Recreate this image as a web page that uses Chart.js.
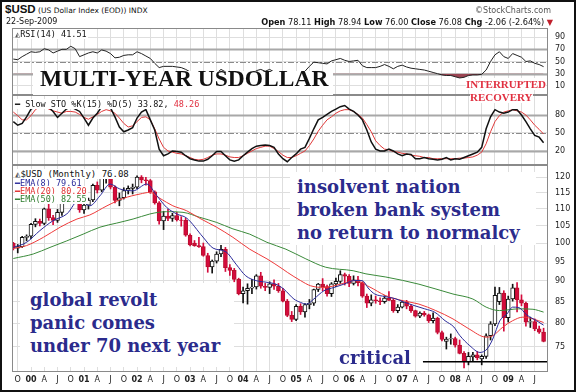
<!DOCTYPE html>
<html>
<head>
<meta charset="utf-8">
<script src="https://cdn.jsdelivr.net/npm/chart.js@4.4.1/dist/chart.umd.min.js"></script>
<style>
  html, body { margin: 0; padding: 0; background: #fff; }
  #wrap { position: relative; width: 576px; height: 392px; overflow: hidden; background: #fff; font-family: "DejaVu Sans", Verdana, sans-serif; color: #111; }
  #frame { position: absolute; left: 0; top: 0; width: 572px; height: 388px; border: 2px solid #111; z-index: 20; pointer-events: none; }
  canvas { position: absolute; left: 0; }
  .t { position: absolute; white-space: nowrap; z-index: 5; }
  .mono { font-family: "DejaVu Sans Mono", monospace; font-size: 8.5px; line-height: 10px; }
  .lab { background: #fff; padding-right: 1px; }
  .box { position: absolute; background: #fff; z-index: 4; }
  .note { position: absolute; white-space: nowrap; z-index: 6; font-family: "DejaVu Serif", serif; font-weight: bold; color: #2b2b8c; font-size: 18px; line-height: 23px; }
  .red { position: absolute; white-space: nowrap; z-index: 6; font-family: "Liberation Serif", serif; font-weight: bold; color: #e03040; font-size: 11px; background: #fff; }
</style>
</head>
<body>
<div id="wrap">
  <canvas id="rsi" width="576" height="67" style="top:28px"></canvas>
  <canvas id="sto" width="576" height="70" style="top:95px"></canvas>
  <canvas id="price" width="576" height="226" style="top:165px"></canvas>

  <div class="t" style="left:5px;top:3px;font-size:7.5px"><b style="font-family:'Liberation Sans',Arial,sans-serif;font-size:11.5px">$USD</b> (US Dollar Index (EOD)) INDX</div>
  <div class="t" style="left:6px;top:17px;font-size:8px">22-Sep-2009</div>
  <div class="t" style="right:25px;top:6px;font-size:8px;color:#555">©StockCharts.com</div>
  <div class="t" style="right:23px;top:17px;font-size:8.2px"><b>Open</b> 78.11 <b>High</b> 78.94 <b>Low</b> 76.00 <b>Close</b> 76.08 <b>Chg</b> -2.06 (-2.64%) <span style="color:#c0202c">▼</span></div>

  <div class="t mono lab" style="left:15px;top:29px"><span style="color:#555">◭</span>RSI(14) 41.51</div>
  <div class="box" style="left:33px;top:71px;width:300px;height:24px"></div>
  <div class="t" style="left:40px;top:65px;z-index:6;font-family:'Liberation Serif',serif;font-weight:bold;font-size:23.5px;color:#111">MULTI-YEAR USDOLLAR</div>
  <div class="red" style="left:466px;top:78px">INTERRUPTED</div>
  <div class="red" style="left:470px;top:91px">RECOVERY</div>

  <div class="t mono lab" style="left:15px;top:99px"><b>━</b> Slow STO %K(15) %D(5) 33.82, <span style="color:#e03040">48.26</span></div>

  <div class="t mono lab" style="left:15px;top:169px;font-size:9px"><span style="color:#555">◭</span>$USD (Monthly) 76.08</div>
  <div class="t mono lab" style="left:15px;top:178px;color:#2a2a9a">━EMA(8) 79.61</div>
  <div class="t mono lab" style="left:15px;top:186px;color:#e03030">━EMA(20) 80.20</div>
  <div class="t mono lab" style="left:15px;top:194px;color:#2f7d2f">━EMA(50) 82.55</div>

  <div class="box" style="left:290px;top:172px;width:246px;height:73px"></div>
  <div class="note" style="left:297px;top:175px">insolvent nation<br>broken bank system<br>no return to normalcy</div>

  <div class="box" style="left:20px;top:283px;width:214px;height:84px"></div>
  <div class="note" style="left:30px;top:288px">global revolt<br>panic comes<br>under 70 next year</div>

  <div class="box" style="left:333px;top:348px;width:82px;height:22px"></div>
  <div class="note" style="left:339px;top:346px">critical</div>

  <div id="frame"></div>
</div>
<script>
// months are counted from Jan 2000 (= 0); first candle is Sep 1999
const firstMonth = -4;
const X_MIN = -4.3;
const X_MAX = 117;

const xTickLabels = ['O','00','A','J','O','01','A','J','O','02','A','J','O','03','A','J','O','04','A','J',
  'O','05','A','J','O','06','A','J','O','07','A','J','O','08','A','J','O','09','A','J'];
const priceTicks = [75, 80, 85, 90, 95, 100, 105, 110, 115, 120];
const rsiTicks = [10, 30, 50, 70, 90];
const stoTicks = [20, 50, 80];
const rsiLevels = [30, 50, 70];
const stoLevels = [20, 50, 80];
const criticalLine = [[88.7, 71.9], [117, 71.9]];

const priceOpen = [
  99.9, 98.6, 99.0, 101.6,
  101.9, 105.3, 106.2, 105.6, 110.0, 107.3, 106.5, 108.9, 112.3, 113.8, 117.0, 114.6,
  109.6, 111.1, 112.7, 117.4, 115.8, 119.7, 120.1, 116.8, 112.6, 113.4, 115.7, 116.4,
  116.8, 120.1, 119.2, 118.9, 115.3, 111.8, 106.3, 107.8, 107.1, 107.9, 106.6, 106.5,
  102.2, 100.0, 99.3, 99.0, 96.6, 93.6, 95.1, 97.0, 98.3, 93.4, 92.7, 90.4,
  86.9, 87.6, 88.2, 88.5, 91.3, 88.7, 88.4, 89.3, 88.7, 87.6, 85.1, 81.8,
  80.9, 83.9, 82.6, 84.3, 84.6, 87.9, 89.2, 88.6, 86.9, 89.3, 89.9, 91.6,
  91.2, 89.4, 90.3, 89.6, 86.3, 84.6, 85.4, 85.2, 85.0, 85.8, 85.3, 82.9,
  83.7, 84.9, 83.9, 82.9, 81.6, 82.3, 81.9, 80.6, 81.2, 78.0, 76.1, 76.6,
  76.7, 75.3, 73.6, 71.9, 72.9, 73.3, 72.5, 73.0, 77.3, 79.9, 85.0, 87.0,
  81.3, 85.6, 88.3, 85.4, 84.6, 80.3, 80.4, 78.8, 78.11
];
const priceHigh = [
  100.2, 99.6, 101.9, 102.3,
  105.6, 107.0, 106.9, 110.2, 112.0, 108.0, 109.8, 112.7, 115.2, 118.9, 117.5, 115.3,
  112.2, 113.3, 117.8, 118.5, 119.9, 120.9, 121.0, 117.2, 114.9, 116.6, 117.2, 117.8,
  120.5, 120.6, 120.0, 119.3, 115.6, 112.2, 109.2, 109.8, 108.6, 108.9, 107.6, 107.1,
  102.6, 100.7, 101.6, 100.0, 97.2, 95.4, 97.6, 99.4, 98.8, 94.2, 93.2, 90.7,
  88.5, 89.3, 90.4, 91.6, 92.2, 89.4, 89.8, 90.3, 89.4, 88.2, 85.5, 82.7,
  84.3, 84.5, 84.5, 85.5, 88.0, 89.4, 90.6, 89.0, 89.6, 90.7, 92.6, 92.0,
  91.6, 91.3, 91.2, 89.8, 86.8, 86.6, 86.3, 85.9, 86.4, 87.4, 85.6, 84.3,
  85.3, 85.3, 84.3, 83.0, 82.6, 82.7, 82.1, 82.4, 81.4, 78.3, 77.0, 77.7,
  77.0, 76.4, 74.0, 73.8, 73.8, 74.0, 73.3, 77.7, 80.4, 88.5, 88.4, 87.6,
  86.3, 89.2, 89.6, 86.6, 84.9, 81.4, 81.0, 79.4, 78.94
];
const priceLow = [
  98.1, 97.3, 98.8, 100.6,
  101.2, 104.6, 104.9, 105.2, 106.5, 105.2, 105.9, 108.0, 111.6, 113.4, 113.8, 108.9,
  108.6, 109.9, 112.2, 114.9, 115.3, 118.1, 116.2, 111.8, 110.9, 113.0, 114.6, 114.6,
  116.3, 118.2, 117.4, 114.8, 111.4, 105.4, 103.8, 106.4, 106.2, 106.3, 104.8, 101.9,
  99.2, 99.1, 98.8, 96.4, 92.2, 92.0, 94.6, 96.3, 92.4, 91.4, 89.8, 86.6,
  84.7, 84.4, 86.9, 88.0, 88.2, 87.6, 86.9, 87.9, 87.2, 84.9, 81.5, 80.4,
  80.6, 82.0, 81.4, 83.3, 84.1, 87.4, 87.6, 86.3, 86.2, 88.6, 89.4, 89.0,
  88.6, 89.0, 88.8, 86.0, 83.6, 84.0, 84.6, 84.3, 84.6, 85.3, 82.5, 82.4,
  83.5, 83.3, 82.5, 81.4, 81.3, 81.6, 80.2, 80.1, 77.7, 76.2, 74.5, 75.5,
  74.9, 73.5, 70.7, 71.3, 72.0, 72.3, 71.3, 72.6, 76.4, 79.5, 84.3, 78.3,
  80.3, 85.1, 82.6, 84.0, 79.4, 79.1, 78.4, 77.8, 76.00
];
const priceClose = [
  98.6, 99.0, 101.6, 101.9,
  105.3, 106.2, 105.6, 110.0, 107.3, 106.5, 108.9, 112.3, 113.8, 117.0, 114.6, 109.6,
  111.1, 112.7, 117.4, 115.8, 119.7, 120.1, 116.8, 112.6, 113.4, 115.7, 116.4, 116.8,
  120.1, 119.2, 118.9, 115.3, 111.8, 106.3, 107.8, 107.1, 107.9, 106.6, 106.5, 102.2,
  99.5, 99.3, 99.0, 96.6, 93.6, 95.1, 97.0, 98.3, 93.4, 92.7, 90.4, 86.9,
  87.6, 88.2, 88.5, 91.3, 88.7, 88.4, 89.3, 88.7, 87.6, 85.1, 81.8, 80.9,
  83.9, 82.6, 84.3, 84.6, 87.9, 89.2, 88.6, 86.9, 89.3, 89.9, 91.6, 91.2,
  89.4, 90.3, 89.6, 86.3, 84.6, 85.4, 85.2, 85.0, 85.8, 85.3, 82.9, 83.7,
  84.9, 83.9, 82.9, 81.6, 82.3, 81.9, 80.6, 81.2, 78.0, 76.5, 76.6, 76.7,
  75.3, 73.6, 72.0, 73.0, 73.3, 72.7, 73.0, 77.3, 79.9, 86.5, 87.0, 81.3,
  85.6, 88.3, 85.4, 84.6, 80.3, 80.4, 78.8, 78.1, 76.08
];

// [month, value]
const ema8 = [[-4,98.8],[-1,100.2],[2,103.5],[5,106.4],[8.1,108.4],[11,112.9],[13.3,110.9],[15.6,114.0],[17.9,117.8],
  [20.1,116.2],[23.1,115.6],[26.2,117.8],[28.5,114.0],[30.7,110.4],[33,108.4],[35.2,107.2],[38.9,101.7],[41.2,98.6],
  [44.1,97.6],[46.4,94.3],[48.6,91.3],[50.9,90.1],[53.2,89.7],[55.4,89.2],[57.2,88.0],[59.5,85.6],[61,84.8],[62.4,84.4],
  [64,85.6],[66.3,87.6],[68.6,88.4],[70.8,89.2],[73.1,90.1],[74.9,90.1],[76.5,88.0],[77.8,86.8],[80.1,86.2],[82.4,85.7],
  [84.6,84.8],[86.9,84.0],[89.1,83.3],[91.4,82.5],[93.7,80.6],[95.7,79.2],[97,77.4],[99.3,75.2],[101.6,73.8],[103.2,74.5],
  [104.5,76.6],[106.1,80.6],[107.7,82.1],[109,83.7],[110.4,83.6],[112.2,81.9],[114.4,80.6],[116,79.61]];
const ema20 = [[-4,98.5],[-1,99.3],[2.8,101.6],[6.6,104.5],[10.4,106.9],[13.3,108.1],[17.2,110.9],[20.9,113.2],[24.7,114.6],
  [26.9,115.1],[29.2,113.2],[32.1,110.9],[35.2,109.4],[38.2,107.1],[42,104.5],[45.7,101.6],[49.5,98.3],[53.4,95.7],[57,93.0],
  [58,92.2],[61,90.1],[63.3,88.8],[66.3,88.4],[70,89.2],[73.3,90.1],[76.5,88.6],[80.3,86.4],[84.2,85.2],[87.8,84.4],
  [91.6,82.9],[95.5,81.0],[99.1,78.8],[103,77.0],[104.5,77.3],[106.8,79.2],[109,80.6],[111.3,81.4],[113.6,81.0],[116,80.2]];
const ema50 = [[-4,95.8],[0.5,97.0],[4.3,98.8],[8.1,100.6],[11.8,102.5],[15.6,104.5],[19.4,105.7],[23.1,106.9],[26.9,108.4],
  [28.8,108.9],[30.7,109.1],[34.4,108.9],[38.2,107.4],[42,105.9],[45.7,104.0],[49.5,102.5],[53.4,100.2],[57.7,98.3],
  [62.2,95.7],[66.7,93.5],[72.9,92.6],[75.8,91.8],[80.3,91.0],[87.8,89.2],[95.5,86.8],[100,85.6],[103,83.7],[106,82.9],
  [110.4,83.3],[113.6,83.2],[116,82.55]];

const rsi14 = [
  54, 53, 58, 62,
  66, 65, 66, 71, 69, 64, 67, 70, 70, 75, 71, 58,
  61, 64, 66, 64, 69, 67, 63, 56, 57, 60, 61, 61,
  66, 63, 59, 55, 47, 40, 42, 42, 42, 41, 40, 37,
  33, 28, 27, 27, 24, 27, 31, 37, 33, 27, 25, 22,
  24, 25, 29, 35, 37, 34, 37, 33, 30, 27, 23, 21,
  26, 28, 34, 42, 49, 48, 47, 46, 51, 53, 55, 52,
  50, 51, 52, 43, 40, 40, 40, 42, 45, 42, 38, 42,
  44, 41, 39, 38, 37, 36, 34, 32, 30, 28, 27, 27,
  25, 23, 24, 27, 28, 28, 29, 36, 50, 61, 66, 58,
  55, 63, 60, 57, 50, 51, 47, 45, 41.51
];
const stoK = [
  69, 63, 66, 77,
  90, 94, 97, 96, 93, 86, 76, 83, 90, 94, 90, 86,
  75, 63, 75, 83, 94, 94, 92, 77, 60, 52, 55, 59,
  75, 85, 89, 72, 55, 23, 12, 15, 20, 19, 18, 12,
  7, 5, 3, 3, 6, 12, 19, 19, 12, 5, 3, 5,
  12, 18, 24, 28, 29, 30, 29, 26, 15, 7, 2, 9,
  15, 23, 26, 41, 57, 72, 76, 81, 86, 90, 94, 96,
  90, 86, 80, 72, 55, 35, 23, 20, 20, 23, 20, 15,
  12, 15, 14, 7, 7, 9, 7, 6, 5, 6, 9, 5,
  7, 6, 9, 12, 15, 18, 26, 57, 77, 89, 85, 83,
  85, 89, 89, 80, 69, 57, 46, 43, 33.82
];
const stoD = [
  85, 79, 72, 72,
  79, 89, 94, 94, 90, 87, 85, 83, 86, 86, 85, 81,
  76, 73, 77, 81, 86, 89, 87, 83, 75, 66, 60, 62,
  69, 76, 77, 72, 57, 40, 26, 20, 18, 16, 15, 12,
  9, 6, 5, 6, 9, 13, 15, 15, 13, 10, 9, 9,
  12, 16, 20, 24, 26, 28, 28, 24, 19, 13, 9, 9,
  12, 16, 20, 29, 40, 53, 63, 72, 77, 83, 87, 89,
  89, 86, 81, 75, 64, 52, 37, 29, 23, 22, 19, 18,
  16, 15, 13, 12, 11, 9, 9, 7, 7, 7, 7, 7,
  7, 8, 8, 9, 10, 13, 18, 32, 52, 69, 79, 85,
  87, 89, 87, 85, 80, 72, 63, 56, 48.26
];

const GRID = '#dedede';
const UP_EDGE = '#111';
const DOWN_FILL = '#d40a3c';

Chart.defaults.font.family = '"DejaVu Sans", Verdana, sans-serif';
Chart.defaults.font.size = 8;
Chart.defaults.color = '#222';

const monthOf = (i) => firstMonth + i;
const series = (values) => values.map((v, i) => ({ x: monthOf(i), y: v }));
const pairs = (list) => list.map(([x, y]) => ({ x, y }));

const panelFrame = {
  id: 'panelFrame',
  beforeDatasetsDraw(chart, args, opts) {
    const { ctx, chartArea: a } = chart;
    const y = chart.scales.y;
    (opts.levels || []).forEach((level) => {
      const py = Math.round(y.getPixelForValue(level.value)) + 0.5;
      ctx.save();
      ctx.strokeStyle = level.color;
      ctx.lineWidth = level.width;
      ctx.setLineDash(level.dash || []);
      ctx.beginPath();
      ctx.moveTo(a.left, py);
      ctx.lineTo(a.right, py);
      ctx.stroke();
      ctx.restore();
    });
  },
  afterDraw(chart) {
    const { ctx, chartArea: a } = chart;
    ctx.save();
    ctx.strokeStyle = '#8a8a8a';
    ctx.lineWidth = 1;
    ctx.strokeRect(a.left + 0.5, a.top + 0.5, a.right - a.left - 1, a.bottom - a.top - 1);
    ctx.restore();
  },
};

function levelStyle(values) {
  return values.map((value) => (value === 50
    ? { value, color: '#8a8a8a', width: 1, dash: [6, 2, 2, 2] }
    : { value, color: '#a8a8a8', width: 2 }));
}

function xScale(showLabels) {
  return {
    type: 'linear',
    min: X_MIN,
    max: X_MAX,
    offset: false,
    afterBuildTicks: (scale) => {
      scale.ticks = xTickLabels.map((_, i) => ({ value: -3 + 3 * i }));
    },
    ticks: {
      display: showLabels,
      autoSkip: false,
      maxRotation: 0,
      padding: 3,
      color: '#222',
      font: (c) => ({ size: 8, weight: /\d/.test(xTickLabels[c.index] || '') ? 'bold' : 'normal' }),
      callback: (value, index) => xTickLabels[index],
    },
    grid: { color: GRID, drawTicks: false, offset: false },
    border: { display: false },
    afterFit: (scale) => {
      scale.height = showLabels ? 19 : 0;
      scale.paddingLeft = 0;
      scale.paddingRight = 0;
    },
  };
}

function yScale(type, min, max, ticks) {
  return {
    type,
    position: 'right',
    min,
    max,
    afterBuildTicks: (scale) => {
      scale.ticks = ticks.map((value) => ({ value }));
    },
    ticks: { padding: 7, color: '#222', font: { size: 8 }, callback: (value) => String(value) },
    grid: { color: GRID, drawTicks: false },
    border: { display: false },
    afterFit: (scale) => {
      scale.width = 28;
      scale.paddingTop = 0;
      scale.paddingBottom = 0;
    },
  };
}

function baseOptions(scales, levels) {
  return {
    responsive: false,
    animation: false,
    events: [],
    layout: { padding: { left: 12, right: 0, top: 0, bottom: 0 } },
    plugins: { legend: { display: false }, tooltip: { enabled: false }, panelFrame: { levels } },
    scales,
  };
}

new Chart(document.getElementById('rsi'), {
  type: 'line',
  data: {
    datasets: [{
      data: series(rsi14),
      borderColor: '#222',
      borderWidth: 1,
      pointRadius: 0,
      fill: { target: { value: 30 }, above: 'rgba(0,0,0,0)', below: '#9a4452' },
    }],
  },
  options: baseOptions({ x: xScale(false), y: yScale('linear', -5, 105, rsiTicks) }, levelStyle(rsiLevels)),
  plugins: [panelFrame],
});

new Chart(document.getElementById('sto'), {
  type: 'line',
  data: {
    datasets: [
      { data: series(stoK), borderColor: '#111', borderWidth: 1.5, pointRadius: 0, order: 1 },
      { data: series(stoD), borderColor: '#e03a3a', borderWidth: 1, pointRadius: 0, order: 2 },
    ],
  },
  options: baseOptions({ x: xScale(false), y: yScale('linear', -3.5, 113.5, stoTicks) }, levelStyle(stoLevels)),
  plugins: [panelFrame],
});

const isUp = priceClose.map((c, i) => c >= priceOpen[i]);

new Chart(document.getElementById('price'), {
  type: 'bar',
  data: {
    datasets: [
      {
        type: 'bar',
        data: priceLow.map((low, i) => ({ x: monthOf(i), y: [low, priceHigh[i]] })),
        backgroundColor: isUp.map((up) => (up ? UP_EDGE : DOWN_FILL)),
        barThickness: 1,
        grouped: false,
        order: 5,
      },
      {
        type: 'bar',
        data: priceOpen.map((open, i) => ({ x: monthOf(i), y: [open, priceClose[i]] })),
        backgroundColor: isUp.map((up) => (up ? '#fff' : DOWN_FILL)),
        borderColor: isUp.map((up) => (up ? UP_EDGE : '#b8102e')),
        borderWidth: 1,
        borderSkipped: false,
        barThickness: 4,
        grouped: false,
        order: 4,
      },
      { type: 'line', data: pairs(ema50), borderColor: '#3a8a3a', borderWidth: 1, pointRadius: 0, cubicInterpolationMode: 'monotone', order: 3 },
      { type: 'line', data: pairs(ema20), borderColor: '#ee3a3a', borderWidth: 1, pointRadius: 0, cubicInterpolationMode: 'monotone', order: 2 },
      { type: 'line', data: pairs(ema8), borderColor: '#2a2a9a', borderWidth: 1, pointRadius: 0, cubicInterpolationMode: 'monotone', order: 1 },
      { type: 'line', data: pairs(criticalLine), borderColor: '#000', borderWidth: 1.5, pointRadius: 0, order: 0 },
    ],
  },
  options: baseOptions({ x: xScale(true), y: yScale('logarithmic', 69.9, 124.2, priceTicks) }, []),
  plugins: [panelFrame],
});
</script>
</body>
</html>
